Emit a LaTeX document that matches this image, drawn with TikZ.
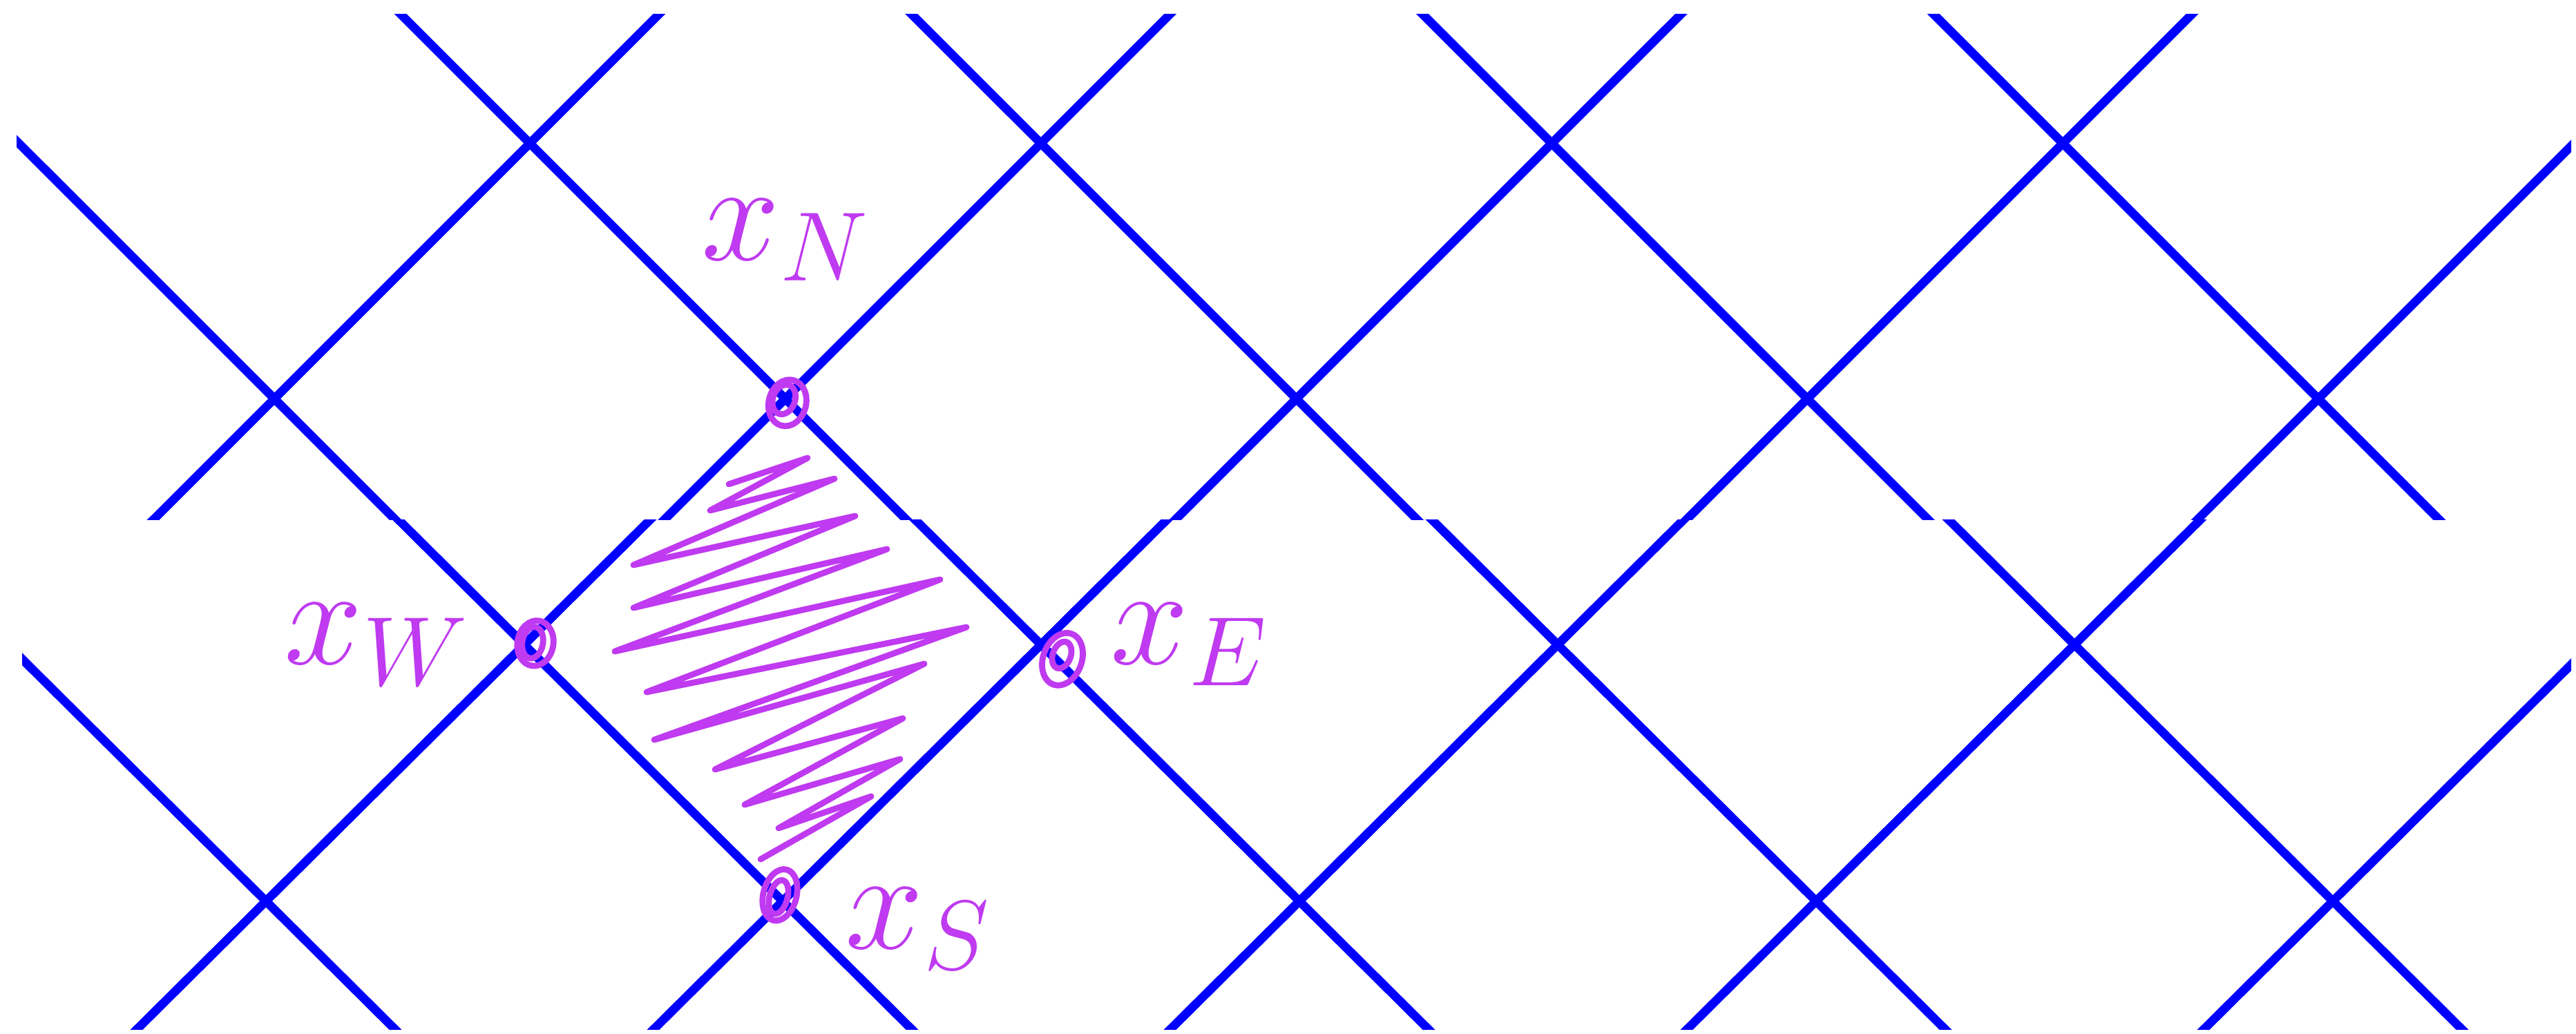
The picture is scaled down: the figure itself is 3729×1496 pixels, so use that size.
\RequirePackage{fix-cm}
\documentclass[tikz,border=0pt]{standalone}
\usetikzlibrary{positioning}
\definecolor{wire}{HTML}{0000FF}
\definecolor{ink}{HTML}{BF3AF0}
\tikzset{
  lattice/.style={draw=wire, line width=3.6pt},
  pen/.style={draw=ink, line width=2.5pt, line cap=round, line join=round},
  handlabel/.style={text=ink, inner sep=0pt, font=\fontsize{58}{62}\selectfont},
}

\begin{document}
\begin{tikzpicture}[x=0.1mm, y=-0.1mm]
\useasboundingbox (0,0) rectangle (3729,1496);

% upper strip of the lattice
\begin{scope}
  \clip (24,20) rectangle (3722,752);
  \begin{scope}[shift={(767,207.5)}, x=36.985mm, y=-36.98mm]
    \draw[lattice] (-3,-1) -- (1,3)  (-1,-1) -- (3,3)  (1,-1) -- (5,3)  (3,-1) -- (7,3)  (5,-1) -- (9,3);
    \draw[lattice] (1,-1) -- (-3,3)  (3,-1) -- (-1,3)  (5,-1) -- (1,3)  (7,-1) -- (3,3)  (9,-1) -- (5,3);
    \coordinate (xN) at (1,1);
  \end{scope}
\end{scope}

% lower strip, same pattern pasted a period lower
\begin{scope}
  \clip (32,752) rectangle (3722,1490);
  \begin{scope}[shift={(759,933.3)}, x=37.4mm, y=-37.14mm]
    \draw[lattice] (-3,-1) -- (1,3)  (-1,-1) -- (3,3)  (1,-1) -- (5,3)  (3,-1) -- (7,3)  (5,-1) -- (9,3);
    \draw[lattice] (1,-1) -- (-3,3)  (3,-1) -- (-1,3)  (5,-1) -- (1,3)  (7,-1) -- (3,3)  (9,-1) -- (5,3);
    \coordinate (xW) at (0,0);
    \coordinate (xE) at (2,0);
    \coordinate (xS) at (1,1);
  \end{scope}
\end{scope}

% hatching of the cell
\draw[pen] (1055,701) -- (1169,663) -- (1028,739) -- (1208,693) -- (917,818) -- (1238,747)
  -- (917,880) -- (1284,795) -- (890,943) -- (1361,839) -- (936,1002) -- (1399,908)
  -- (947,1071) -- (1338,961) -- (1035,1114) -- (1307,1040) -- (1078,1165) -- (1303,1099)
  -- (1127,1199) -- (1261,1153) -- (1101,1244);

% marks on the corners
\draw[pen] ([xshift=0.3mm, yshift=-0.6mm]xN) ellipse [x radius=2.7mm, y radius=3.4mm, rotate=-15];
\draw[pen] ([xshift=-0.2mm, yshift=-0.1mm]xN) ellipse [x radius=1.6mm, y radius=2.2mm, rotate=-20];
\draw[pen] ([xshift=1.6mm, yshift=0.2mm]xW) ellipse [x radius=2.6mm, y radius=3.3mm, rotate=-10];
\draw[pen] ([xshift=1.2mm, yshift=0.3mm]xW) ellipse [x radius=1.5mm, y radius=2.3mm, rotate=-10];
\draw[pen] ([xshift=3.1mm, yshift=-2.1mm]xE) ellipse [x radius=2.8mm, y radius=3.9mm, rotate=-20];
\draw[pen] ([xshift=3.0mm, yshift=-1.5mm]xE) ellipse [x radius=1.3mm, y radius=2.0mm, rotate=-20];
\draw[pen] ([xshift=-0.4mm, yshift=0.9mm]xS) ellipse [x radius=2.4mm, y radius=3.8mm, rotate=-15];
\draw[pen] ([xshift=-0.6mm, yshift=0.6mm]xS) ellipse [x radius=1.3mm, y radius=2.5mm, rotate=-15];

\node[handlabel, above=17mm of xN] (lN) {$x_N$};
\node[handlabel, left=8mm of xW] (lW) {$x_W$};
\node[handlabel, right=10mm of xE] (lE) {$x_E$};
\node[handlabel, right=9mm of xS, yshift=-4mm] (lS) {$x_S$};

\end{tikzpicture}
\end{document}
